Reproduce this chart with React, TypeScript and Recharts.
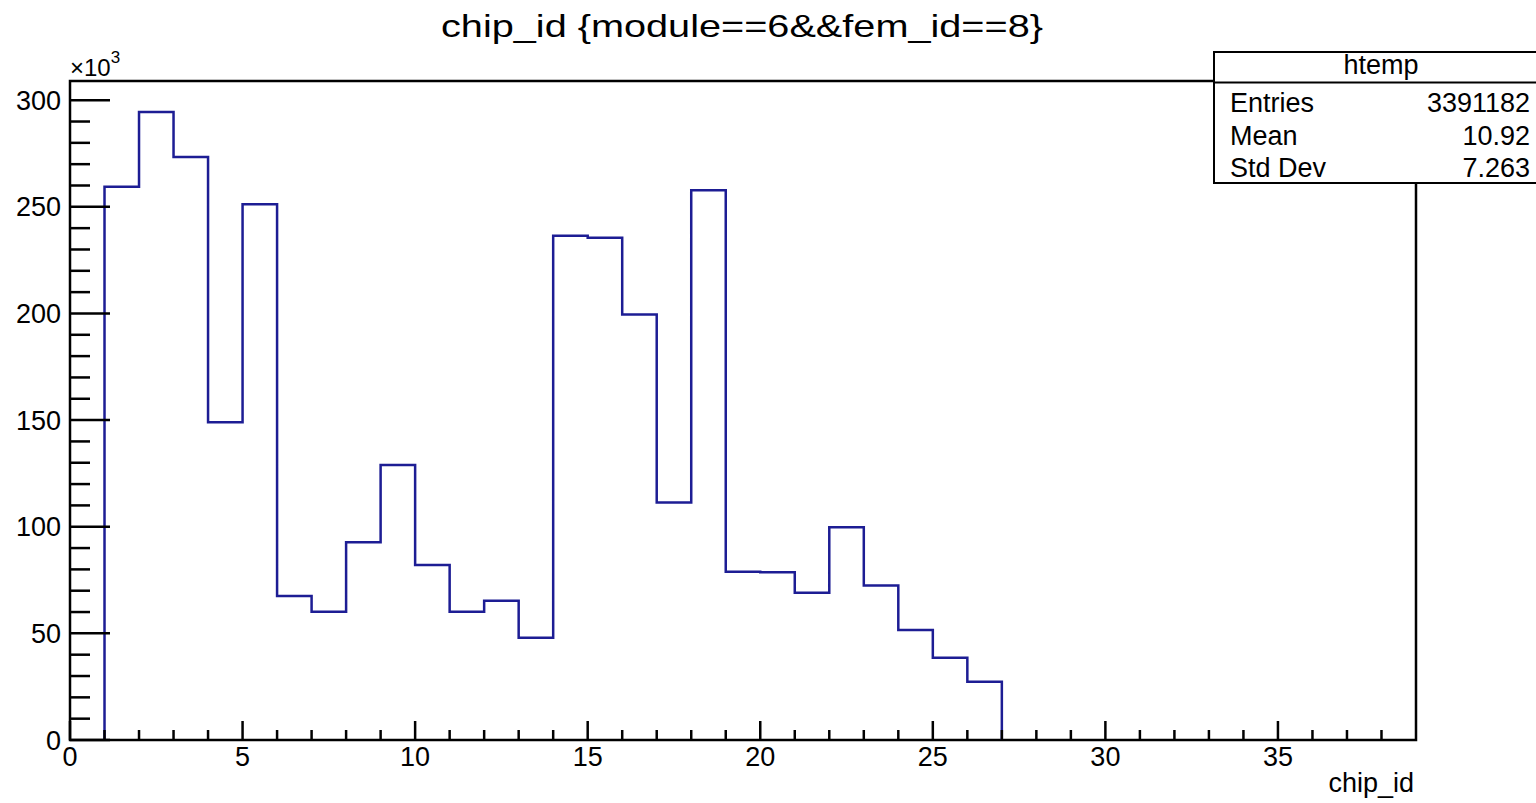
import { ComposedChart, Line, XAxis, YAxis, ReferenceArea } from 'recharts'

// lower edge of each filled chip_id bin and its entries (x10^3)
const chipIds = [1, 2, 3, 4, 5, 6, 7, 8, 9, 10, 11, 12, 13, 14, 15, 16, 17, 18, 19, 20, 21, 22, 23, 24, 25, 26]
const entries = [
  259.4, 294.5, 273.4, 149.0, 251.2, 67.5, 60.1, 92.7, 128.9, 82.0, 60.1, 65.3, 48.0,
  236.4, 235.5, 199.5, 111.4, 257.8, 78.9, 78.6, 69.1, 99.7, 72.5, 51.6, 38.6, 27.3,
]

const xLabels = [0, 5, 10, 15, 20, 25, 30, 35]
const yLabels = [0, 50, 100, 150, 200, 250, 300]
const xMax = 39
const yMax = 309

const statsNames = ['Entries', 'Mean', 'Std Dev']
const statsValues = ['3391182', '10.92', '7.263']

// histogram outline: rise from zero at the first edge, drop back at the last
const lastEdge = chipIds[chipIds.length - 1] + 1
const data = [
  { x: chipIds[0], y: 0 },
  ...chipIds.map((id, i) => ({ x: id, y: entries[i] })),
  { x: lastEdge, y: 0 },
]

const xTicks: number[] = []
for (let i = 0; i < xMax; i++) xTicks.push(i)
const yTicks: number[] = []
for (let i = 0; i <= 300; i += 10) yTicks.push(i)

const font = '"Liberation Sans", Arial, Helvetica, sans-serif'

function XTick(props: any) {
  const { x, y, payload } = props
  const major = xLabels.includes(payload.value)
  return (
    <g>
      <line x1={x} x2={x} y1={y} y2={y - (major ? 19 : 10)} stroke="#000" strokeWidth={2.5} />
      {major && (
        <text x={x} y={y + 26} textAnchor="middle" fontSize={27} fontFamily={font} fill="#000">
          {payload.value}
        </text>
      )}
    </g>
  )
}

function YTick(props: any) {
  const { x, y, payload } = props
  const major = yLabels.includes(payload.value)
  return (
    <g>
      <line x1={x} x2={x + (major ? 40 : 20)} y1={y} y2={y} stroke="#000" strokeWidth={2.5} />
      {major && (
        <text x={x - 9} y={y + 9.5} textAnchor="end" fontSize={27} fontFamily={font} fill="#000">
          {payload.value}
        </text>
      )}
    </g>
  )
}

export default function App() {
  return (
    <div
      style={{
        position: 'absolute',
        left: 0,
        top: 0,
        width: 1536,
        height: 803,
        background: '#fff',
        fontFamily: font,
        overflow: 'hidden',
      }}
    >
      <ComposedChart
        width={1536}
        height={803}
        data={data}
        margin={{ top: 81, right: 120, bottom: 13, left: 10 }}
      >
        <XAxis
          dataKey="x"
          type="number"
          domain={[0, xMax]}
          ticks={xTicks}
          interval={0}
          height={50}
          tickSize={0}
          tickMargin={0}
          axisLine={false}
          tickLine={false}
          tick={XTick}
          allowDataOverflow
        />
        <YAxis
          type="number"
          domain={[0, yMax]}
          ticks={yTicks}
          interval={0}
          width={60}
          tickSize={0}
          tickMargin={0}
          axisLine={false}
          tickLine={false}
          tick={YTick}
          allowDataOverflow
        />
        <Line
          type="stepAfter"
          dataKey="y"
          stroke="#1d1d94"
          strokeWidth={2.5}
          dot={false}
          isAnimationActive={false}
        />
        <ReferenceArea x1={0} x2={xMax} y1={0} y2={yMax} fill="none" stroke="#000" strokeWidth={2.5} />
      </ComposedChart>

      <svg
        width={1536}
        height={803}
        style={{ position: 'absolute', left: 0, top: 0, pointerEvents: 'none' }}
        fontFamily={font}
      >
        <text x={742} y={37} textAnchor="middle" fontSize={32} textLength={602} lengthAdjust="spacingAndGlyphs">
          chip_id {'{module==6&&fem_id==8}'}
        </text>
        <text x={70} y={76} fontSize={24}>
          ×10<tspan fontSize={17} dy={-13}>3</tspan>
        </text>
        <text x={1414} y={792} textAnchor="end" fontSize={27}>
          chip_id
        </text>

        <rect x={1214} y={52} width={340} height={131} fill="#fff" stroke="#000" strokeWidth={2} />
        <line x1={1214} x2={1536} y1={82.5} y2={82.5} stroke="#000" strokeWidth={2} />
        <text x={1381} y={74} textAnchor="middle" fontSize={27}>
          htemp
        </text>
        {statsNames.map((name, i) => (
          <g key={name}>
            <text x={1230} y={112 + i * 32.5} fontSize={27}>
              {name}
            </text>
            <text x={1530} y={112 + i * 32.5} textAnchor="end" fontSize={27}>
              {statsValues[i]}
            </text>
          </g>
        ))}
      </svg>
    </div>
  )
}
